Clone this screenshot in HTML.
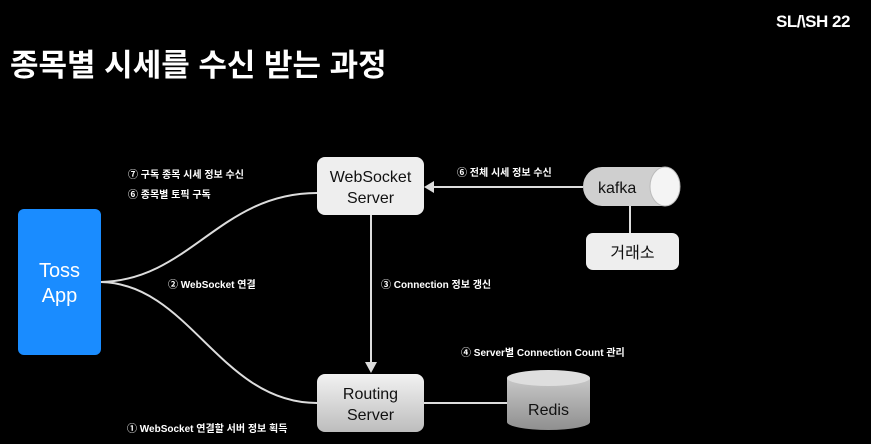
<!DOCTYPE html>
<html><head><meta charset="utf-8"><style>
body{margin:0;background:#000;width:871px;height:439px;overflow:hidden;font-family:"Liberation Sans","Noto Sans CJK KR",sans-serif;}
svg text{font-family:"Liberation Sans","Noto Sans CJK KR",sans-serif;}
</style></head><body>
<svg width="871" height="439" viewBox="0 0 871 439" xmlns="http://www.w3.org/2000/svg">
<defs>
<linearGradient id="rg" x1="0" y1="0" x2="0" y2="1"><stop offset="0" stop-color="#f2f2f2"/><stop offset="1" stop-color="#bdbdbd"/></linearGradient>
<linearGradient id="dg" x1="0" y1="0" x2="0" y2="1"><stop offset="0" stop-color="#c8c8c8"/><stop offset="1" stop-color="#8f8f8f"/></linearGradient>
</defs>
<text x="776" y="27" fill="#fff" font-size="17" font-weight="bold" letter-spacing="-0.5">SL/\SH 22</text>
<text x="10" y="76" fill="#fff" font-size="31" font-weight="bold">종목별 시세를 수신 받는 과정</text>

<g stroke="#ddd" stroke-width="2" fill="none">
<path d="M101 282 C190 280 220 193 317 193"/>
<path d="M101 282 C190 284 220 403 317 403"/>
<line x1="371" y1="215" x2="371" y2="364"/>
<line x1="432" y1="187" x2="583" y2="187"/>
<line x1="630" y1="206" x2="630" y2="233"/>
<line x1="424" y1="403" x2="507" y2="403"/>
</g>
<polygon points="365,362 377,362 371,373" fill="#ddd"/>
<polygon points="424,187 434,181 434,193" fill="#ddd"/>

<rect x="18" y="209" width="83" height="146" rx="6" fill="#1a8cff"/>
<text x="59.5" y="277" fill="#fff" font-size="20" text-anchor="middle">Toss</text>
<text x="59.5" y="302" fill="#fff" font-size="20" text-anchor="middle">App</text>

<rect x="317" y="157" width="107" height="58" rx="8" fill="#eeeeee"/>
<text x="370.5" y="182" font-size="16" text-anchor="middle" fill="#111">WebSocket</text>
<text x="370.5" y="203" font-size="16" text-anchor="middle" fill="#111">Server</text>

<rect x="317" y="374" width="107" height="58" rx="8" fill="url(#rg)"/>
<text x="370.5" y="399" font-size="16" text-anchor="middle" fill="#111">Routing</text>
<text x="370.5" y="420" font-size="16" text-anchor="middle" fill="#111">Server</text>

<path d="M602 167 H665 V206 H602 A19 19.5 0 0 1 602 167 Z" fill="#cfcfcf"/>
<ellipse cx="665" cy="186.5" rx="15" ry="19.5" fill="#f4f4f4" stroke="#bbb" stroke-width="1"/>
<text x="598" y="193" font-size="16" fill="#111">kafka</text>

<rect x="586" y="233" width="93" height="37" rx="7" fill="#eeeeee"/>
<text x="632.5" y="258" font-size="16" text-anchor="middle" fill="#111">거래소</text>

<path d="M507 378 V422 A41.5 8 0 0 0 590 422 V378 Z" fill="url(#dg)"/>
<ellipse cx="548.5" cy="378" rx="41.5" ry="8" fill="#dedede"/>
<text x="548.5" y="415" font-size="16" text-anchor="middle" fill="#111">Redis</text>

<g fill="#fff" font-size="10" font-weight="bold">
<text x="128" y="178">⑦ 구독 종목 시세 정보 수신</text>
<text x="128" y="198">⑥ 종목별 토픽 구독</text>
<text x="168" y="288">② WebSocket 연결</text>
<text x="381" y="288">③ Connection 정보 갱신</text>
<text x="457" y="176">⑥ 전체 시세 정보 수신</text>
<text x="461" y="356">④ Server별 Connection Count 관리</text>
<text x="127" y="432">① WebSocket 연결할 서버 정보 획득</text>
</g>
</svg>
</body></html>
